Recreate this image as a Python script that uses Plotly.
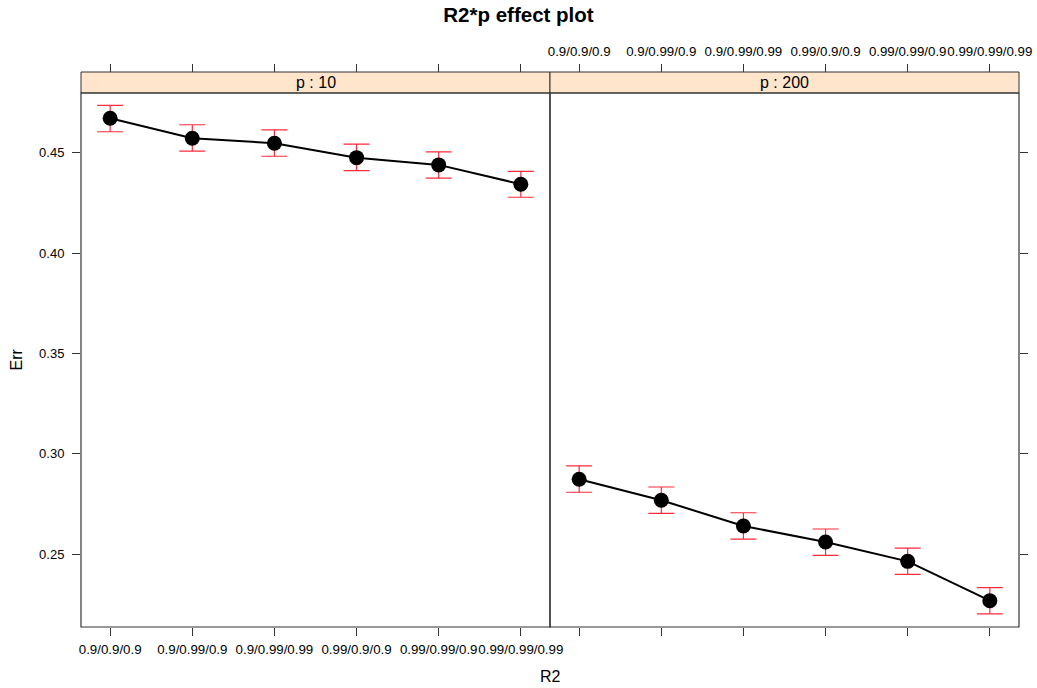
import plotly.graph_objects as go

categories = ["0.9/0.9/0.9", "0.9/0.99/0.9", "0.9/0.99/0.99",
              "0.99/0.9/0.9", "0.99/0.99/0.9", "0.99/0.99/0.99"]
panels = ["p : 10", "p : 200"]

err_p10 = [0.4671, 0.4572, 0.4547, 0.4475, 0.4439, 0.4343]
upper_p10 = [0.4735, 0.4639, 0.4613, 0.4542, 0.4504, 0.4407]
lower_p10 = [0.4604, 0.4508, 0.4482, 0.4410, 0.4373, 0.4278]

err_p200 = [0.2874, 0.2769, 0.2641, 0.2561, 0.2465, 0.2269]
upper_p200 = [0.2940, 0.2835, 0.2707, 0.2626, 0.2531, 0.2334]
lower_p200 = [0.2809, 0.2704, 0.2576, 0.2495, 0.2400, 0.2203]

y_ticks = [0.25, 0.30, 0.35, 0.40, 0.45]
y_ticktext = ["0.25", "0.30", "0.35", "0.40", "0.45"]

FONT = "Liberation Sans, Arial, Helvetica, sans-serif"
xpos = list(range(1, len(categories) + 1))
XR = [0.645, 6.355]
YR = [0.2138, 0.4797]

W, H = 1037, 688
ML, MR, MT, MB = 80.5, 18, 72, 61
plot_h = H - MT - MB
strip_h = 21
ydom_top = (plot_h - strip_h) / plot_h

fig = go.Figure()

series = [(err_p10, upper_p10, lower_p10, "x", "y"),
          (err_p200, upper_p200, lower_p200, "x2", "y")]
for vals, up, lo, xa, ya in series:
    fig.add_trace(go.Scatter(
        x=xpos, y=vals, xaxis=xa, yaxis=ya, mode="lines+markers",
        line=dict(color="black", width=2),
        marker=dict(color="black", size=15),
        error_y=dict(type="data", symmetric=False,
                     array=[u - v for u, v in zip(up, vals)],
                     arrayminus=[v - l for v, l in zip(vals, lo)],
                     color="#ff2a3a", thickness=1.2, width=13),
        showlegend=False, hoverinfo="skip"))

tickfont = dict(family=FONT, size=13.3, color="black")
common_x = dict(range=XR, tickmode="array", tickvals=xpos, ticktext=categories,
                ticks="outside", ticklen=8, tickcolor="#333", tickwidth=1,
                showgrid=False, zeroline=False, showline=False, automargin=False,
                tickangle=0, tickfont=tickfont, fixedrange=True)

fig.update_layout(
    width=W, height=H,
    margin=dict(l=ML, r=MR, t=MT, b=MB, pad=0, autoexpand=False),
    paper_bgcolor="white", plot_bgcolor="white",
    title=dict(text="<b>R2*p effect plot</b>", x=0.5, xanchor="center",
               y=1 - 15 / H, yanchor="middle", automargin=False,
               font=dict(family=FONT, size=20.5, color="black")),
    xaxis=dict(domain=[0, 0.5], anchor="y", showticklabels=True,
               ticklabelstandoff=2, **common_x),
    xaxis2=dict(domain=[0.5, 1], anchor="y", showticklabels=False, **common_x),
    xaxis3=dict(overlaying="x", side="top", anchor="free", position=1,
                showticklabels=False, **common_x),
    xaxis4=dict(overlaying="x2", side="top", anchor="free", position=1,
                showticklabels=True, ticklabelstandoff=3, **common_x),
    yaxis=dict(domain=[0, ydom_top], range=YR, anchor="x", side="left",
               tickmode="array", tickvals=y_ticks, ticktext=y_ticktext,
               ticks="outside", ticklen=8, tickcolor="#333", automargin=False,
               showgrid=False, zeroline=False, showline=False,
               ticklabelstandoff=5,
               tickfont=dict(family=FONT, size=13, color="black"),
               fixedrange=True),
    yaxis2=dict(overlaying="y", anchor="x2", side="right", range=YR,
                tickmode="array", tickvals=y_ticks, ticktext=y_ticktext,
                ticks="outside", ticklen=8, tickcolor="#333", automargin=False,
                showticklabels=False, showgrid=False, zeroline=False,
                showline=False, fixedrange=True),
)

# dummy traces to activate top / right axes
fig.add_trace(go.Scatter(x=[None], y=[None], xaxis="x3", yaxis="y", showlegend=False))
fig.add_trace(go.Scatter(x=[None], y=[None], xaxis="x4", yaxis="y2", showlegend=False))

# axis titles
fig.add_annotation(text="R2", xref="paper", yref="paper", x=0.5, y=-(676 - (H - MB)) / plot_h,
                   xanchor="center", yanchor="middle", showarrow=False,
                   font=dict(family=FONT, size=16, color="black"))
fig.add_annotation(text="Err", xref="paper", yref="paper", x=-(ML - 15) / (W - ML - MR),
                   y=(ydom_top) / 2, xanchor="center", yanchor="middle", showarrow=False,
                   textangle=-90, font=dict(family=FONT, size=16, color="black"))

shapes = []
for i, name in enumerate(panels):
    x0, x1 = (0, 0.5) if i == 0 else (0.5, 1)
    shapes.append(dict(type="rect", xref="paper", yref="paper", x0=x0, x1=x1,
                       y0=ydom_top, y1=1, fillcolor="#ffe5cc",
                       line=dict(color="#333", width=1), layer="below"))
    shapes.append(dict(type="rect", xref="paper", yref="paper", x0=x0, x1=x1,
                       y0=0, y1=ydom_top, fillcolor="rgba(0,0,0,0)",
                       line=dict(color="#333", width=1.2), layer="above"))
    fig.add_annotation(text=name, xref="paper", yref="paper",
                       x=(x0 + x1) / 2, y=(ydom_top + 1) / 2,
                       xanchor="center", yanchor="middle", showarrow=False,
                       font=dict(family=FONT, size=16, color="black"))
fig.update_layout(shapes=shapes)

fig.write_html("out.html")
